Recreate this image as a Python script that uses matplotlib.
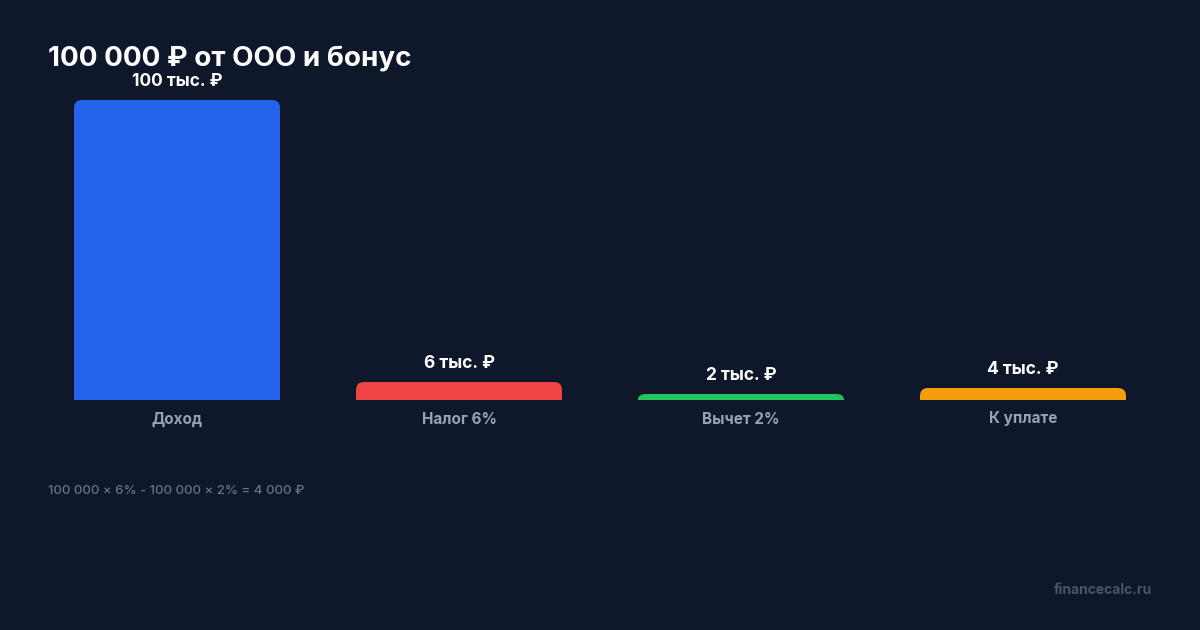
import matplotlib.pyplot as plt
from matplotlib.path import Path
from matplotlib.patches import PathPatch

plt.rcParams['font.family'] = ['Inter', 'DejaVu Sans']

categories = ['Доход', 'Налог 6%', 'Вычет 2%', 'К уплате']
values = [100, 6, 2, 4]  # тыс. ₽
value_labels = ['100 тыс. ₽', '6 тыс. ₽', '2 тыс. ₽', '4 тыс. ₽']
colors = ['#2563eb', '#ef4444', '#22c55e', '#f59e0b']

title = '100 000 ₽ от ООО и бонус'
formula = '100 000 × 6% - 100 000 × 2% = 4 000 ₽'
site = 'financecalc.ru'

bg = '#0f172a'
W, H = 1200, 630

fig = plt.figure(figsize=(12, 6.3), dpi=100, facecolor=bg)
# axes spans x 36..1164 px, y 100..400 px
ax = fig.add_axes([36 / W, 1 - 400 / H, 1128 / W, 300 / H])
ax.set_facecolor(bg)
ax.set_xlim(-0.5, len(categories) - 0.5)
ax.set_ylim(0, 100)
ax.axis('off')

width = 206 / 282
bars = ax.bar(range(len(values)), values, width=width, color=colors)

# rounded top corners, radius ~8 px
rx = 8 / 282
ry = 8 / 3
for b, c in zip(bars, colors):
    x0, y0 = b.get_x(), b.get_y()
    x1, y1 = x0 + b.get_width(), y0 + b.get_height()
    r_y = min(ry, b.get_height())
    verts = [(x0, y0), (x0, y1 - r_y), (x0, y1), (x0 + rx, y1),
             (x1 - rx, y1), (x1, y1), (x1, y1 - r_y), (x1, y0), (x0, y0)]
    codes = [Path.MOVETO, Path.LINETO, Path.CURVE3, Path.CURVE3,
             Path.LINETO, Path.CURVE3, Path.CURVE3, Path.LINETO, Path.CLOSEPOLY]
    b.set_visible(False)
    ax.add_patch(PathPatch(Path(verts, codes), facecolor=c, edgecolor='none'))

for i, (v, lab) in enumerate(zip(values, value_labels)):
    ax.annotate(lab, (i, v), xytext=(0, 10), textcoords='offset pixels',
                ha='center', va='bottom', color='white', fontsize=12.5,
                fontweight='bold', annotation_clip=False)
    ax.annotate(categories[i], (i, 0), xytext=(0, -19), textcoords='offset pixels',
                ha='center', va='center', color='#94a3b8', fontsize=11,
                fontweight='bold', annotation_clip=False)

fig.text(48 / W, 1 - 59 / H, title, ha='left', va='center', color='white',
         fontsize=20, fontweight='bold')
fig.text(48 / W, 1 - 491 / H, formula, ha='left', va='center', color='#64748b',
         fontsize=9.5, fontweight='medium')
fig.text(1152 / W, 1 - 590 / H, site, ha='right', va='center', color='#475569',
         fontsize=10, fontweight='bold')

fig.savefig('out.png', dpi=100, facecolor=bg)
